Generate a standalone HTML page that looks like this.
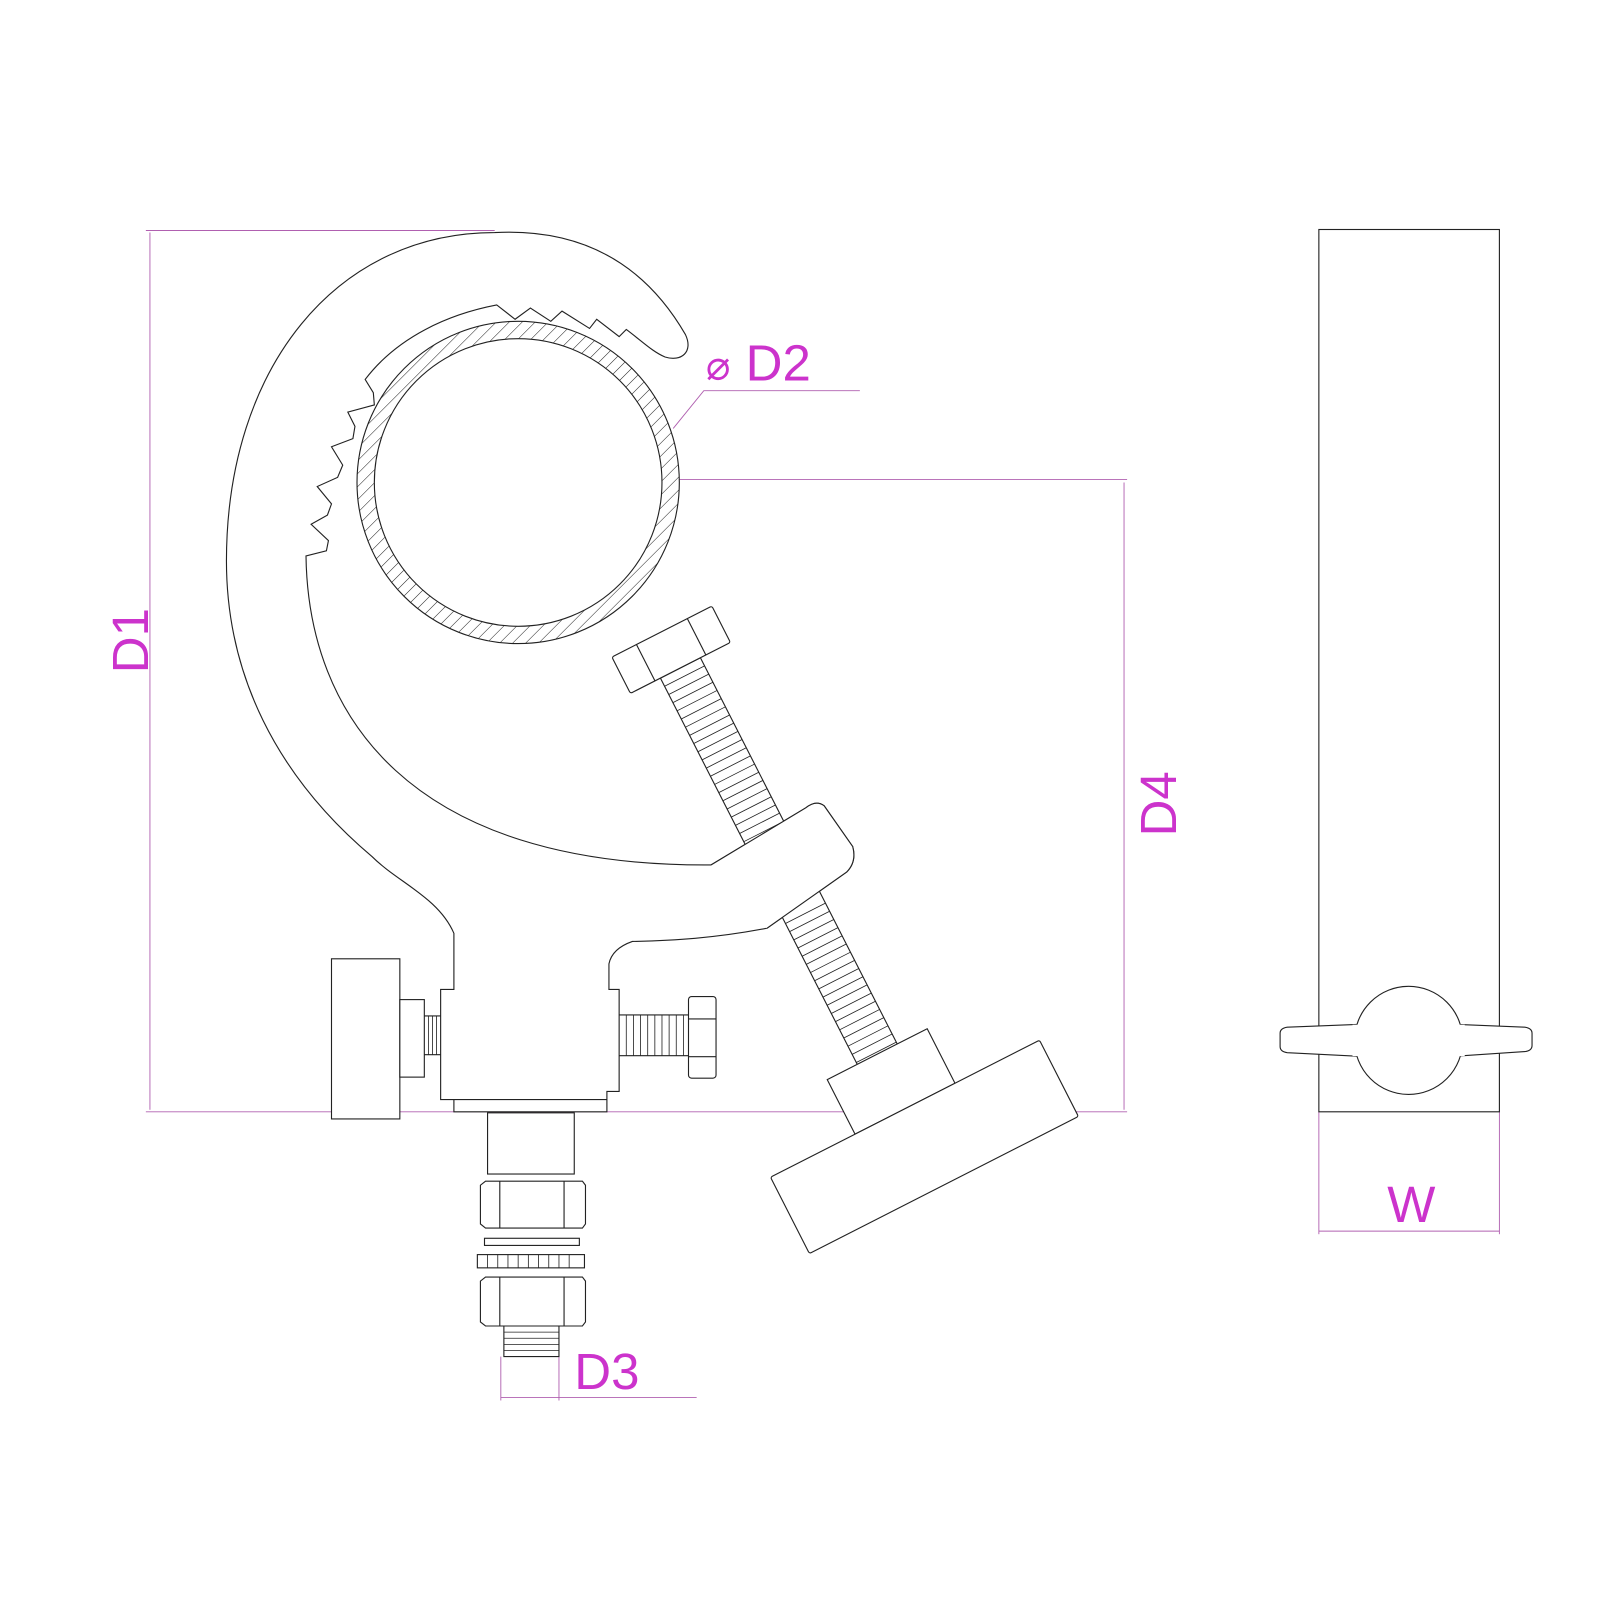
<!DOCTYPE html>
<html><head><meta charset="utf-8"><style>
html,body{margin:0;padding:0;background:#fff;}
svg{display:block;}
text{font-family:"Liberation Sans","DejaVu Sans",sans-serif;fill:#cc33cc;}
</style></head><body>
<svg width="1600" height="1600" viewBox="0 0 1600 1600" xmlns="http://www.w3.org/2000/svg">
<defs>
<pattern id="h" width="9" height="9" patternUnits="userSpaceOnUse" patternTransform="rotate(45)">
<rect width="9" height="9" fill="#fff"/><line x1="0" y1="0" x2="0" y2="9" stroke="#222" stroke-width="1"/>
</pattern>
</defs>
<g transform="scale(1.02)" stroke="#222" stroke-width="1.1" fill="none">
<g stroke="#b060b0" stroke-width="0.9">
<line x1="143" y1="226" x2="485" y2="226"/>
<line x1="147" y1="228" x2="147" y2="1088"/>
<line x1="143" y1="1090" x2="1105" y2="1090"/>
<line x1="508" y1="470" x2="1105" y2="470"/>
<line x1="1102" y1="473" x2="1102" y2="1088"/>
<polyline points="660,420 690,383 843,383"/>
<line x1="491" y1="1330" x2="491" y2="1373"/>
<line x1="548" y1="1330" x2="548" y2="1373"/>
<line x1="491" y1="1370" x2="683" y2="1370"/>
<line x1="1293" y1="1090" x2="1293" y2="1210"/>
<line x1="1470" y1="1090" x2="1470" y2="1210"/>
<line x1="1293" y1="1207" x2="1470" y2="1207"/>
</g>
<rect x="1293" y="225" width="177" height="865"/>
<path d="M1340,1004 L1262,1007 Q1255,1008 1255,1013 L1255,1026 Q1255,1031 1262,1032 L1340,1036 L1420,1036 L1495,1031 Q1502,1030 1502,1025 L1502,1013 Q1502,1008 1495,1007 L1420,1004 Z" fill="#fff"/>
<circle cx="1381" cy="1020" r="53" fill="#fff"/>
<rect x="1326" y="1004.6" width="110" height="30.8" fill="#fff" stroke="none"/>
<path d="M485,228 C600,222 650,290 672,328 C680,345 668,355 652,350 C640,345 630,335 614,323 L607,330 L585,313 L578,322 L551,305 L540,315 L520,302 L505,313 L487,299 C440,308 390,330 358,372 L366,385 L367,397 L341,404 L348,418 L346,430 L325,438 L336,456 L331,468 L311,477 L325,494 L321,505 L305,514 L322,530 L320,540 L300,545 C302,700 400,850 697,848 L790,792 Q800,784 808,790 L836,830 Q840,845 830,855 L752,910 C700,920 660,922 620,923 Q600,930 597,945 L597,970 L607,970 L607,1070 L595,1070 L595,1090 L445,1090 L445,1078 L432,1078 L432,970 L445,970 L445,915 C430,880 390,865 365,840 C270,760 222,660 222,550 C222,360 330,228 485,228 Z" fill="#fff"/>
<circle cx="508" cy="473" r="158" fill="url(#h)"/>
<circle cx="508" cy="473" r="141" fill="#fff"/>
<rect x="325" y="940" width="67" height="157" fill="#fff"/>
<rect x="392" y="980" width="24" height="76" fill="#fff"/>
<path d="M416,996 L432,996 M416,1034 L432,1034"/>
<g stroke-width="0.8"><line x1="420" y1="996" x2="420" y2="1034"/><line x1="424" y1="996" x2="424" y2="1034"/><line x1="428" y1="996" x2="428" y2="1034"/></g>
<path d="M607,995 L675,995 M607,1035 L675,1035"/>
<g stroke-width="0.8">
<line x1="614" y1="995" x2="614" y2="1035"/><line x1="621" y1="995" x2="621" y2="1035"/><line x1="628" y1="995" x2="628" y2="1035"/><line x1="635" y1="995" x2="635" y2="1035"/><line x1="642" y1="995" x2="642" y2="1035"/><line x1="649" y1="995" x2="649" y2="1035"/><line x1="656" y1="995" x2="656" y2="1035"/><line x1="663" y1="995" x2="663" y2="1035"/><line x1="670" y1="995" x2="670" y2="1035"/></g>
<rect x="675" y="977" width="27" height="80" rx="3" fill="#fff"/>
<line x1="675" y1="999" x2="702" y2="999"/><line x1="675" y1="1036" x2="702" y2="1036"/>
<line x1="445" y1="1078" x2="595" y2="1078"/>
<rect x="478" y="1091" width="85" height="60" fill="#fff"/>
<path d="M476,1158 h95 l3,4 v38 l-3,4 h-95 l-5,-4 v-38 z" fill="#fff"/>
<line x1="490" y1="1158" x2="490" y2="1204"/><line x1="553" y1="1158" x2="553" y2="1204"/>
<rect x="475" y="1214" width="93" height="7" fill="#fff"/>
<rect x="468" y="1230" width="105" height="13" fill="#fff"/>
<g stroke-width="0.8"><line x1="478" y1="1230" x2="478" y2="1243"/><line x1="488" y1="1230" x2="488" y2="1243"/><line x1="498" y1="1230" x2="498" y2="1243"/><line x1="508" y1="1230" x2="508" y2="1243"/><line x1="518" y1="1230" x2="518" y2="1243"/><line x1="528" y1="1230" x2="528" y2="1243"/><line x1="538" y1="1230" x2="538" y2="1243"/><line x1="548" y1="1230" x2="548" y2="1243"/><line x1="558" y1="1230" x2="558" y2="1243"/></g>
<path d="M476,1252 h95 l3,4 v40 l-3,4 h-95 l-5,-4 v-40 z" fill="#fff"/>
<line x1="490" y1="1252" x2="490" y2="1300"/><line x1="553" y1="1252" x2="553" y2="1300"/>
<path d="M494,1300 v30 h54 v-30"/>
<g stroke-width="0.8"><line x1="494" y1="1306" x2="548" y2="1306"/><line x1="494" y1="1312" x2="548" y2="1312"/><line x1="494" y1="1318" x2="548" y2="1318"/><line x1="494" y1="1324" x2="548" y2="1324"/></g>
<g transform="translate(658,637) rotate(-27)">
<rect x="-22" y="20" width="44" height="430" fill="#fff"/>
<g stroke-width="0.8">
<line x1="-22" y1="29" x2="22" y2="29"/><line x1="-22" y1="38" x2="22" y2="38"/><line x1="-22" y1="47" x2="22" y2="47"/><line x1="-22" y1="56" x2="22" y2="56"/><line x1="-22" y1="65" x2="22" y2="65"/><line x1="-22" y1="74" x2="22" y2="74"/><line x1="-22" y1="83" x2="22" y2="83"/><line x1="-22" y1="92" x2="22" y2="92"/><line x1="-22" y1="101" x2="22" y2="101"/><line x1="-22" y1="110" x2="22" y2="110"/><line x1="-22" y1="119" x2="22" y2="119"/><line x1="-22" y1="128" x2="22" y2="128"/><line x1="-22" y1="137" x2="22" y2="137"/><line x1="-22" y1="146" x2="22" y2="146"/><line x1="-22" y1="155" x2="22" y2="155"/><line x1="-22" y1="164" x2="22" y2="164"/><line x1="-22" y1="173" x2="22" y2="173"/><line x1="-22" y1="182" x2="22" y2="182"/><line x1="-22" y1="191" x2="22" y2="191"/><line x1="-22" y1="200" x2="22" y2="200"/>
<line x1="-22" y1="290" x2="22" y2="290"/><line x1="-22" y1="299" x2="22" y2="299"/><line x1="-22" y1="308" x2="22" y2="308"/><line x1="-22" y1="317" x2="22" y2="317"/><line x1="-22" y1="326" x2="22" y2="326"/><line x1="-22" y1="335" x2="22" y2="335"/><line x1="-22" y1="344" x2="22" y2="344"/><line x1="-22" y1="353" x2="22" y2="353"/><line x1="-22" y1="362" x2="22" y2="362"/><line x1="-22" y1="371" x2="22" y2="371"/><line x1="-22" y1="380" x2="22" y2="380"/><line x1="-22" y1="389" x2="22" y2="389"/><line x1="-22" y1="398" x2="22" y2="398"/><line x1="-22" y1="407" x2="22" y2="407"/><line x1="-22" y1="416" x2="22" y2="416"/><line x1="-22" y1="425" x2="22" y2="425"/><line x1="-22" y1="434" x2="22" y2="434"/><line x1="-22" y1="443" x2="22" y2="443"/>
</g>
<rect x="-55" y="-20" width="110" height="40" rx="2" fill="#fff"/>
<line x1="-28" y1="-20" x2="-28" y2="20"/><line x1="28" y1="-20" x2="28" y2="20"/>
<rect x="-55" y="445" width="110" height="60" fill="#fff"/>
<rect x="-148" y="505" width="296" height="84" rx="2" fill="#fff"/>
</g>
<path d="M697,848 L790,792 Q800,784 808,790 L836,830 Q840,845 830,855 L752,910 L740,903 Z" fill="#fff" stroke="none"/>
<path d="M697,848 L790,792 Q800,784 808,790 L836,830 Q840,845 830,855 L752,910"/>
<text x="731" y="373" font-size="50" stroke="none">D2</text>
<text x="692" y="372" font-size="40" stroke="none" fill="#cc77cc">⌀</text>
<text x="0" y="0" font-size="50" stroke="none" transform="translate(145,660) rotate(-90)">D1</text>
<text x="0" y="0" font-size="50" stroke="none" transform="translate(1153,820) rotate(-90)">D4</text>
<text x="563" y="1362" font-size="50" stroke="none">D3</text>
<text x="1360" y="1198" font-size="50" stroke="none">W</text>
</g>
</svg>
</body></html>
